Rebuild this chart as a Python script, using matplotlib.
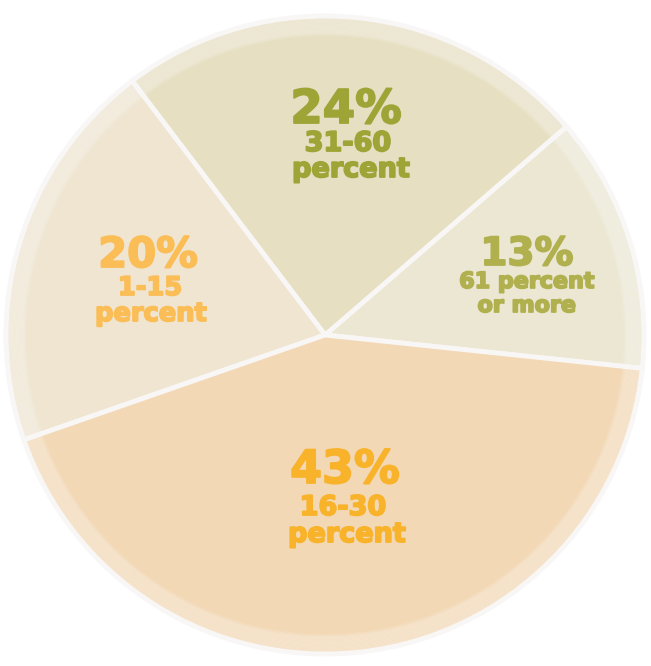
import matplotlib
matplotlib.use("Agg")
import matplotlib.pyplot as plt
from matplotlib.patches import Circle
import matplotlib.patheffects as pe

# Data
values = [13, 24, 20, 43]
pct_labels = ["13%", "24%", "20%", "43%"]
line1 = ["61 percent", "31-60", "1-15", "16-30"]
line2 = ["or more", "percent", "percent", "percent"]

slice_colors = ["#ece7d3", "#e6dfc2", "#efe5d1", "#f2d8b4"]
text_colors = ["#b0b04e", "#9ea436", "#fbbd55", "#f8b32a"]

W, H = 651, 666
fig = plt.figure(figsize=(W / 100, H / 100), dpi=100)
ax = fig.add_axes([0, 0, 1, 1])

cx, cy, r = 325, H - 335, 319
ax.pie(values, colors=slice_colors, startangle=-6, counterclock=True,
       center=(cx, cy), radius=r, frame=True,
       wedgeprops=dict(edgecolor="#f9f6f6", linewidth=3.5))
ax.set_xlim(0, W)
ax.set_ylim(0, H)
ax.set_aspect("equal")
ax.axis("off")

# soft fading edge
for k in range(16):
    ax.add_patch(Circle((cx, cy), r - k * 1.2, fill=False, edgecolor="white",
                        linewidth=3, alpha=0.10))

# label baselines (image px) and sizes
main_pos = [(527, 265), (346, 123), (148, 267), (345, 483)]
l1_pos = [(527, 288), (348, 151), (150, 295), (343, 515)]
l2_pos = [(527, 312), (351, 177), (151, 321), (347, 542)]
main_sizes = [28, 33.5, 30, 33]
sub_sizes = [16, 19.5, 18.5, 19.5]

for i in range(len(values)):
    c = text_colors[i]
    eff = [pe.withStroke(linewidth=1.3, foreground=c)]
    for (x, y), s, fs in ((main_pos[i], pct_labels[i], main_sizes[i]),
                          (l1_pos[i], line1[i], sub_sizes[i]),
                          (l2_pos[i], line2[i], sub_sizes[i])):
        ax.text(x, H - y, s, ha="center", va="baseline", fontsize=fs,
                fontweight="bold", color=c, family="DejaVu Sans",
                path_effects=eff)

fig.savefig("out.png", dpi=100, facecolor="white")
